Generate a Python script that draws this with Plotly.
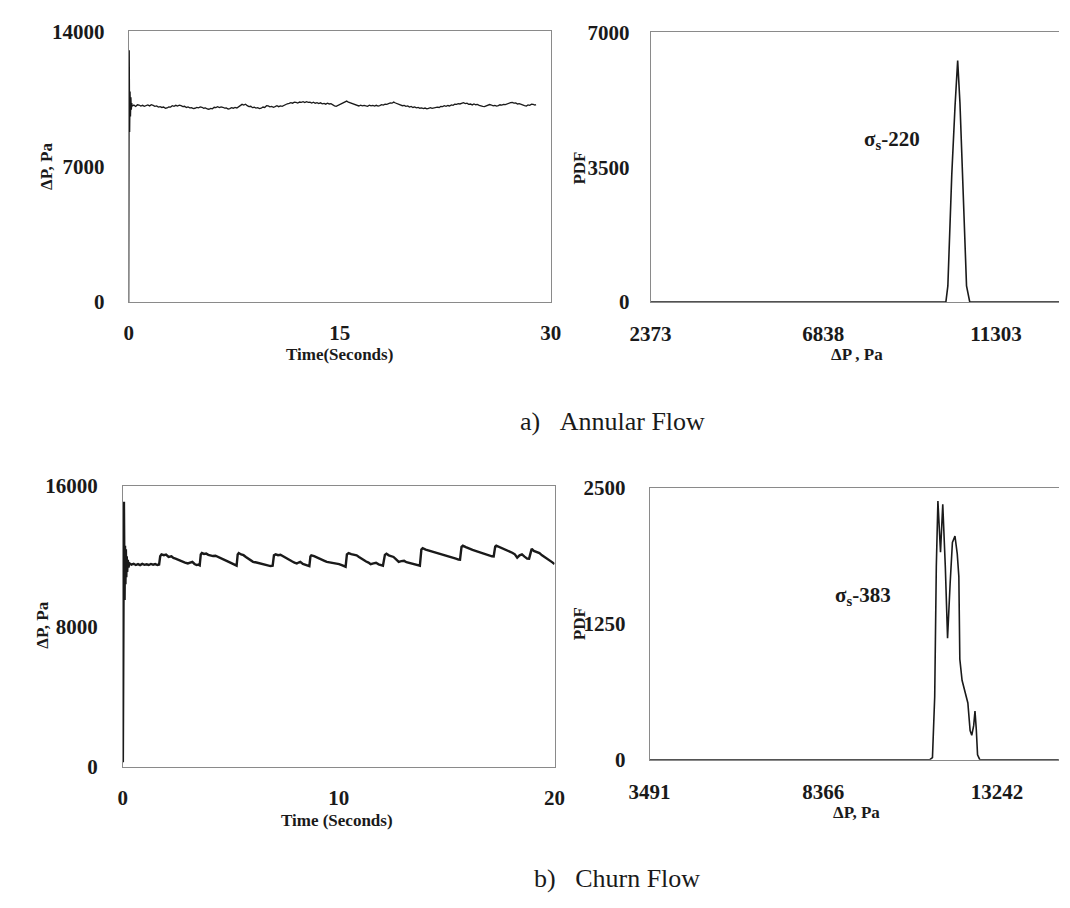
import plotly.graph_objects as go

W, H = 1070, 908

# ---------------- data ----------------
# a) Annular flow: time series (s, Pa)
t_annular = [0, 0.04, 0.07, 0.10, 0.13, 0.16, 0.19, 0.22, 0.25, 0.37, 0.50, 0.62, 0.74, 0.86, 0.99, 1.11, 1.24, 1.36, 1.49, 1.61,
             1.74, 1.86, 1.99, 2.11, 2.23, 2.36, 2.48, 2.61, 2.73, 2.85, 2.98, 3.10, 3.22, 3.35, 3.47, 3.60, 3.72, 3.85, 3.97, 4.10,
             4.22, 4.34, 4.47, 4.59, 4.71, 4.84, 4.96, 5.09, 5.21, 5.33, 5.46, 5.58, 5.70, 5.83, 5.95, 6.08, 6.20, 6.32, 6.45, 6.57,
             6.69, 6.82, 6.94, 7.07, 7.19, 7.31, 7.44, 7.56, 7.69, 7.81, 7.94, 8.06, 8.18, 8.31, 8.43, 8.55, 8.68, 8.80, 8.93, 9.05,
             9.17, 9.30, 9.42, 9.55, 9.67, 9.80, 9.92, 10.04, 10.17, 10.29, 10.41, 10.54, 10.66, 10.79, 10.91, 11.03, 11.16, 11.28, 11.41, 11.53,
             11.65, 11.78, 11.90, 12.02, 12.15, 12.27, 12.40, 12.52, 12.64, 12.77, 12.89, 13.01, 13.14, 13.26, 13.39, 13.51, 13.64, 13.76, 13.89, 14.01,
             14.13, 14.26, 14.38, 14.50, 14.63, 14.75, 14.88, 15.00, 15.13, 15.25, 15.38, 15.50, 15.62, 15.75, 15.87, 15.99, 16.12, 16.24, 16.36, 16.49,
             16.61, 16.74, 16.86, 16.98, 17.11, 17.23, 17.36, 17.48, 17.60, 17.73, 17.85, 17.98, 18.10, 18.23, 18.35, 18.47, 18.60, 18.72, 18.84, 18.97,
             19.09, 19.22, 19.34, 19.46, 19.59, 19.71, 19.84, 19.96, 20.08, 20.21, 20.33, 20.45, 20.58, 20.70, 20.83, 20.95, 21.07, 21.20, 21.32, 21.45,
             21.57, 21.70, 21.82, 21.94, 22.07, 22.19, 22.32, 22.44, 22.56, 22.69, 22.81, 22.94, 23.06, 23.18, 23.31, 23.43, 23.55, 23.68, 23.80, 23.93,
             24.05, 24.17, 24.30, 24.42, 24.55, 24.67, 24.79, 24.92, 25.04, 25.17, 25.29, 25.41, 25.54, 25.66, 25.79, 25.91, 26.03, 26.16, 26.28, 26.40,
             26.53, 26.65, 26.78, 26.90, 27.02, 27.15, 27.27, 27.39, 27.52, 27.64, 27.77, 27.89, 28.01, 28.14, 28.27, 28.39, 28.51, 28.64, 28.76, 28.88,
             28.96]
p_annular = [0, 13030, 8800, 10900, 9600, 10600, 9950, 10300, 10146, 10190, 10120, 10210, 10196, 10140, 10180, 10130, 10163, 10200, 10150, 10210,
             10179, 10130, 10150, 10090, 10112, 10070, 10090, 10030, 10045, 10100, 10090, 10160, 10129, 10180, 10140, 10190, 10163, 10110, 10130, 10070,
             10096, 10050, 10060, 10010, 10028, 10070, 10050, 10100, 10079, 10030, 10050, 9990, 9978, 10020, 10000, 10080, 10062, 10110, 10060, 10100,
             10079, 10040, 10050, 9990, 10012, 10060, 10030, 10070, 10045, 10110, 10200, 10230, 10190, 10240, 10163, 10110, 10130, 10060, 10079, 10040,
             10060, 10010, 10028, 10090, 10070, 10160, 10146, 10100, 10120, 10080, 10112, 10160, 10110, 10150, 10129, 10180, 10210, 10260, 10280, 10320,
             10290, 10340, 10330, 10300, 10350, 10330, 10364, 10320, 10370, 10330, 10347, 10300, 10340, 10290, 10314, 10270, 10310, 10260, 10280, 10240,
             10290, 10250, 10263, 10200, 10150, 10129, 10180, 10220, 10246, 10300, 10350, 10397, 10340, 10300, 10263, 10220, 10190, 10160, 10146, 10190,
             10150, 10180, 10163, 10130, 10190, 10150, 10179, 10140, 10180, 10140, 10163, 10210, 10190, 10240, 10230, 10270, 10300, 10290, 10347, 10300,
             10260, 10220, 10196, 10160, 10180, 10130, 10146, 10090, 10120, 10070, 10096, 10050, 10070, 10030, 10045, 10010, 10040, 10000, 10028, 10060,
             10020, 10050, 10062, 10090, 10070, 10120, 10112, 10160, 10130, 10170, 10146, 10200, 10180, 10240, 10230, 10270, 10250, 10300, 10314, 10270,
             10290, 10230, 10246, 10200, 10250, 10210, 10230, 10180, 10140, 10120, 10112, 10160, 10190, 10220, 10196, 10150, 10180, 10140, 10163, 10210,
             10190, 10230, 10213, 10260, 10290, 10320, 10330, 10290, 10300, 10250, 10263, 10220, 10180, 10160, 10146, 10200, 10180, 10240, 10230, 10190,
             10213]

# a) Annular flow: PDF of pressure drop
dp_annular_pdf = [2373, 5000, 8500, 9000, 9200, 9800, 10008, 10059, 10161, 10245, 10313, 10372, 10457, 10542, 10626, 11500, 13000]
pdf_annular = [0, 0, 0, 15, 0, 0, 0, 421, 3323, 5091, 6268, 5175, 2819, 421, 0, 0, 0]

# b) Churn flow: time series (s, Pa)
t_churn = [0.00, 0.05, 0.08, 0.10, 0.12, 0.14, 0.16, 0.18, 0.20, 0.23, 0.26, 0.30, 0.40, 0.50, 0.60, 0.70, 0.80, 0.90, 1.00, 1.10,
           1.20, 1.30, 1.40, 1.50, 1.60, 1.68, 1.73, 1.79, 1.90, 2.00, 2.12, 2.25, 2.34, 2.44, 2.55, 2.66, 2.77, 2.88, 3.01, 3.10,
           3.22, 3.32, 3.42, 3.50, 3.56, 3.61, 3.66, 3.76, 3.86, 3.96, 4.07, 4.18, 4.29, 4.40, 4.51, 4.62, 4.72, 4.83, 4.93, 5.03,
           5.13, 5.22, 5.27, 5.32, 5.37, 5.48, 5.59, 5.70, 5.81, 5.92, 6.03, 6.19, 6.35, 6.51, 6.62, 6.73, 6.84, 6.94, 7.00, 7.08,
           7.19, 7.30, 7.41, 7.52, 7.63, 7.74, 7.85, 7.95, 8.06, 8.14, 8.22, 8.34, 8.47, 8.58, 8.64, 8.69, 8.73, 8.86, 8.99, 9.12,
           9.23, 9.34, 9.45, 9.56, 9.67, 9.77, 9.90, 10.02, 10.14, 10.26, 10.32, 10.38, 10.46, 10.58, 10.70, 10.83, 10.94, 11.05, 11.16, 11.27,
           11.38, 11.48, 11.61, 11.73, 11.85, 11.97, 12.05, 12.14, 12.21, 12.32, 12.43, 12.54, 12.66, 12.78, 12.90, 13.03, 13.14, 13.25, 13.36, 13.47,
           13.58, 13.68, 13.76, 13.83, 13.89, 14.03, 14.17, 14.29, 14.41, 14.53, 14.66, 14.82, 14.98, 15.14, 15.31, 15.43, 15.55, 15.62, 15.69, 15.75,
           15.89, 16.04, 16.20, 16.37, 16.57, 16.78, 16.94, 17.10, 17.18, 17.25, 17.30, 17.44, 17.59, 17.75, 17.92, 18.04, 18.16, 18.27, 18.38, 18.49,
           18.61, 18.73, 18.82, 18.90, 18.94, 19.04, 19.14, 19.22, 19.30, 19.42, 19.54, 19.66, 19.79, 19.90, 20.00]
p_churn = [250, 15110, 9500, 12600, 10400, 12400, 10800, 12000, 11100, 11800, 11350, 11600, 11520, 11570, 11500, 11550, 11490, 11560, 11510, 11540,
           11500, 11560, 11520, 11550, 11500, 11530, 12000, 12107, 12060, 12090, 11958, 11990, 11900, 11866, 11800, 11760, 11680, 11640, 11588, 11640,
           11680, 11560, 11495, 11520, 11480, 12100, 12181, 12130, 12150, 12080, 12051, 12010, 12030, 11958, 11900, 11840, 11773, 11720, 11660, 11600,
           11550, 11470, 11460, 12100, 12181, 12100, 12060, 11958, 11880, 11760, 11680, 11640, 11600, 11550, 11530, 11480, 11439, 11460, 12050, 12107,
           12060, 12080, 11995, 11940, 11860, 11773, 11700, 11640, 11588, 11640, 11680, 11560, 11495, 11460, 11439, 11990, 12051, 12000, 11940, 11866,
           11810, 11740, 11680, 11660, 11610, 11588, 11560, 11550, 11490, 11439, 11402, 12100, 12181, 12120, 12080, 12051, 11960, 11860, 11773, 11700,
           11640, 11550, 11590, 11625, 11540, 11495, 11458, 12080, 12144, 12050, 12000, 11958, 11820, 11680, 11720, 11736, 11660, 11620, 11588, 11540,
           11520, 11495, 11458, 12380, 12459, 12380, 12329, 12300, 12236, 12210, 12181, 12120, 12051, 11980, 11921, 11860, 11810, 11800, 12540, 12607,
           12520, 12422, 12360, 12292, 12200, 12107, 12050, 11995, 11990, 12550, 12607, 12530, 12477, 12380, 12292, 12200, 12107, 11921, 12050, 12107,
           11980, 11866, 11860, 12380, 12422, 12300, 12236, 12200, 12181, 12050, 11958, 11860, 11773, 11650, 11550]

# b) Churn flow: PDF of pressure drop
dp_churn_pdf = [3491, 8000, 10456, 10727, 11000, 11360, 11433, 11496, 11541, 11586, 11659, 11722, 11794, 11857, 11930, 11993, 12065, 12129,
                12174, 12201, 12264, 12355, 12427, 12490, 12536, 12590, 12627, 12663, 12699, 12762, 13500, 14980]
pdf_churn = [0, 0, 0, 4, 0, 0, 20, 582, 1775, 2381, 1909, 2351, 1775, 1119, 1626, 1999, 2058, 1894,
             1685, 925, 731, 597, 522, 268, 224, 313, 447, 283, 45, 0, 0, 0]

# axis ticks / labels
ticks_a_time = [0, 15, 30]
ticks_a_dp = [0, 7000, 14000]
ticks_a_pdfx = [2373, 6838, 11303]
ticks_a_pdfy = [0, 3500, 7000]
ticks_b_time = [0, 10, 20]
ticks_b_dp = [0, 8000, 16000]
ticks_b_pdfx = [3491, 8366, 13242]
ticks_b_pdfy = [0, 1250, 2500]

# ---------------- layout helpers ----------------
SERIF = "Liberation Serif"
INK = "#1a1a1a"
BOX = "#8a8a8a"


def dom_x(x0, x1):
    return [x0 / W, min(x1 / W, 1.0)]


def dom_y(top, bottom):
    return [1 - bottom / H, 1 - top / H]


tickfont = dict(family=SERIF, size=21, color=INK, weight="bold")


def xaxis(domain, anchor, rng, tv, standoff, mirror=True):
    return dict(domain=domain, anchor=anchor, range=rng, tickvals=tv, ticktext=[str(v) for v in tv],
                showgrid=False, zeroline=False, showline=True, linecolor=BOX, linewidth=1, mirror=mirror,
                ticks="", tickfont=tickfont, ticklabelstandoff=standoff, fixedrange=True)


def yaxis(domain, anchor, rng, tv, standoff, mirror=True):
    return dict(domain=domain, anchor=anchor, range=rng, tickvals=tv, ticktext=[str(v) for v in tv],
                showgrid=False, zeroline=False, showline=True, linecolor=BOX, linewidth=1, mirror=mirror,
                ticks="", tickfont=tickfont, ticklabelstandoff=standoff, fixedrange=True)


fig = go.Figure()
fig.add_trace(go.Scatter(x=t_annular, y=p_annular, mode="lines", line=dict(color=INK, width=1.3),
                         xaxis="x", yaxis="y", showlegend=False))
fig.add_trace(go.Scatter(x=dp_annular_pdf, y=pdf_annular, mode="lines", line=dict(color=INK, width=1.6),
                         xaxis="x2", yaxis="y2", showlegend=False))
fig.add_trace(go.Scatter(x=t_churn, y=p_churn, mode="lines", line=dict(color=INK, width=2.4),
                         xaxis="x3", yaxis="y3", showlegend=False))
fig.add_trace(go.Scatter(x=dp_churn_pdf, y=pdf_churn, mode="lines", line=dict(color=INK, width=1.6),
                         xaxis="x4", yaxis="y4", showlegend=False))

# pixel boxes (left, right, top, bottom)
TL = (111, 546, 20, 298)
TR = (649, 1075, 21, 298)
BL = (105, 550, 487, 775)
BR = (648, 1075, 489, 768)

fig.update_layout(
    width=W, height=H, margin=dict(l=0, r=0, t=0, b=0),
    paper_bgcolor="white", plot_bgcolor="white",
    xaxis=xaxis(dom_x(TL[0], TL[1]), "y", [0, 30], ticks_a_time, 12),
    yaxis=yaxis(dom_y(TL[2], TL[3]), "x", [0, 14000], ticks_a_dp, 19),
    xaxis2=xaxis(dom_x(TR[0], TR[1]), "y2", [2373, 12933], ticks_a_pdfx, 13),
    yaxis2=yaxis(dom_y(TR[2], TR[3]), "x2", [0, 7000], ticks_a_pdfy, 16, mirror=False),
    xaxis3=xaxis(dom_x(BL[0], BL[1]), "y3", [0, 20], ticks_b_time, 12),
    yaxis3=yaxis(dom_y(BL[2], BL[3]), "x3", [0, 16000], ticks_b_dp, 20),
    xaxis4=xaxis(dom_x(BR[0], BR[1]), "y4", [3491, 14986], ticks_b_pdfx, 13),
    yaxis4=yaxis(dom_y(BR[2], BR[3]), "x4", [0, 2500], ticks_b_pdfy, 19, mirror=False),
)

titlefont = dict(family=SERIF, size=17, color=INK, weight="bold")


def ann(text, px, py, font, angle=0, xanchor="center"):
    fig.add_annotation(text=text, x=px / W, y=1 - py / H, xref="paper", yref="paper",
                       showarrow=False, font=font, textangle=angle, xanchor=xanchor, yanchor="middle")


# axis titles
ann("ΔP, Pa", 27, 159, titlefont, angle=-90)
ann("Time(Seconds)", 328, 352, titlefont)
ann("PDF", 576, 160, titlefont, angle=-90)
ann("ΔP , Pa", 862, 352, titlefont)
ann("ΔP, Pa", 22, 630, titlefont, angle=-90)
ann("Time (Seconds)", 326, 830, titlefont)
ann("PDF", 576, 628, titlefont, angle=-90)
ann("ΔP, Pa", 861, 822, titlefont)

# sigma annotations
sigfont = dict(family=SERIF, size=21, color=INK, weight="bold")
ann("σ<sub>s</sub>-220", 898, 131, sigfont)
ann("σ<sub>s</sub>-383", 868, 600, sigfont)

# captions
capfont = dict(family=SERIF, size=26, color=INK)
ann("a)\u00a0\u00a0\u00a0Annular Flow", 512, 421, capfont, xanchor="left")
ann("b)\u00a0\u00a0\u00a0Churn Flow", 527, 890, capfont, xanchor="left")

fig.write_html("out.html")
